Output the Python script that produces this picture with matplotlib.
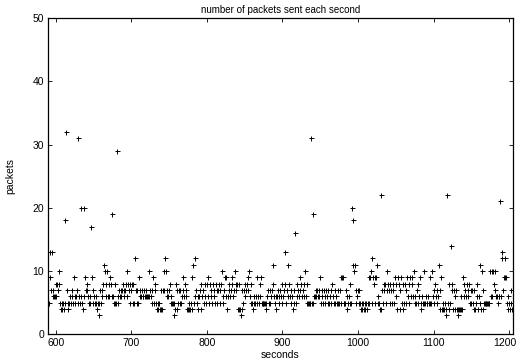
import matplotlib
matplotlib.use("Agg")
import matplotlib.pyplot as plt
import matplotlib.transforms as mtransforms
import numpy as np

# ── data: packets per second, one value per second from 590 ─────────
start_second = 590
packets = [
    5, 5, 9, 13, 7, 13, 7, 6, 6, 6,
    8, 6, 8, 7, 10, 8, 5, 4, 5, 4,
    5, 4, 5, 18, 32, 7, 5, 4, 5, 6,
    5, 6, 7, 5, 9, 6, 5, 6, 7, 5,
    31, 6, 5, 6, 20, 5, 4, 20, 6, 9,
    7, 8, 7, 6, 5, 6, 5, 17, 9, 5,
    7, 6, 5, 5, 6, 4, 5, 3, 5, 7,
    5, 6, 7, 8, 11, 10, 6, 8, 10, 6,
    8, 6, 9, 8, 6, 19, 6, 5, 8, 5,
    5, 29, 5, 6, 7, 6, 7, 6, 7, 8,
    7, 6, 7, 8, 6, 10, 8, 7, 8, 5,     # 690
    7, 8, 5, 8, 5, 12, 7, 5, 7, 5,
    9, 6, 7, 6, 7, 6, 6, 7, 6, 6,
    7, 6, 6, 10, 6, 7, 6, 5, 7, 9,
    5, 7, 8, 5, 4, 5, 4, 5, 4, 7,
    4, 4, 7, 10, 7, 12, 10, 6, 7, 6,
    7, 8, 5, 6, 5, 5, 3, 5, 4, 8,
    7, 4, 5, 7, 5, 7, 5, 6, 9, 7,
    6, 8, 7, 6, 4, 4, 5, 4, 4, 5,
    9, 4, 11, 5, 12, 6, 7, 5, 6, 4,
    6, 7, 4, 8, 6, 7, 5, 8, 6, 5,     # 790
    8, 6, 9, 5, 8, 6, 7, 5, 8, 6,
    7, 5, 8, 7, 5, 7, 8, 5, 7, 8,
    10, 6, 5, 7, 9, 6, 9, 4, 6, 7,
    8, 6, 7, 9, 8, 6, 7, 10, 8, 7,
    8, 4, 8, 4, 4, 3, 7, 4, 5, 7,
    8, 6, 7, 8, 7, 9, 10, 6, 5, 8,
    5, 4, 5, 6, 5, 6, 5, 9, 6, 5,
    8, 6, 9, 5, 5, 5, 5, 5, 5, 4,
    6, 7, 5, 7, 5, 6, 7, 11, 8, 6,
    5, 6, 4, 6, 7, 6, 5, 7, 6, 5,     # 890
    8, 6, 7, 13, 8, 5, 7, 6, 11, 8,
    6, 5, 7, 6, 4, 7, 5, 16, 5, 6,
    8, 7, 6, 9, 7, 8, 6, 7, 8, 6,
    10, 6, 8, 5, 5, 5, 5, 5, 31, 5,
    5, 19, 6, 6, 7, 6, 7, 6, 7, 6,
    9, 5, 7, 6, 5, 7, 6, 5, 7, 6,
    5, 7, 5, 6, 7, 5, 8, 6, 5, 7,
    5, 6, 5, 7, 5, 5, 7, 9, 5, 9,
    9, 5, 5, 5, 7, 6, 4, 5, 6, 5,
    8, 5, 20, 18, 11, 10, 11, 7, 5, 6,  # 990
    7, 5, 7, 5, 4, 5, 4, 5, 4, 5,
    4, 5, 4, 5, 9, 5, 9, 10, 5, 12,
    9, 8, 9, 5, 9, 11, 5, 6, 5, 4,
    4, 22, 7, 5, 8, 7, 8, 5, 7, 10,
    8, 7, 5, 8, 7, 5, 8, 7, 5, 9,
    6, 8, 4, 9, 8, 4, 7, 9, 5, 4,
    8, 5, 8, 7, 5, 9, 6, 8, 5, 9,
    6, 8, 9, 6, 10, 5, 6, 5, 7, 5,
    8, 6, 9, 4, 5, 6, 5, 10, 5, 5,
    6, 5, 5, 6, 5, 5, 9, 5, 10, 6,     # 1090
    7, 5, 8, 6, 7, 5, 6, 11, 7, 4,
    9, 4, 4, 5, 4, 5, 4, 3, 22, 5,
    8, 4, 5, 14, 7, 8, 4, 7, 6, 4,
    7, 4, 4, 3, 4, 4, 4, 6, 4, 9,
    6, 8, 7, 6, 8, 7, 6, 8, 5, 7,
    5, 7, 5, 4, 7, 4, 5, 8, 6, 4,
    6, 11, 5, 4, 10, 4, 7, 5, 5, 5,
    5, 5, 5, 5, 5, 10, 6, 10, 6, 10,
    8, 7, 10, 6, 6, 5, 6, 6, 21, 6,
    13, 12, 7, 9, 12, 9, 9, 5, 4, 6,  # 1190
    5, 4, 5, 7, 4,
]
seconds = np.arange(start_second, start_second + len(packets))

x_ticks = [600, 700, 800, 900, 1000, 1100, 1200]
y_ticks = [0, 10, 20, 30, 40, 50]

# ── plot ─────────────────────────────────────────────────────
plt.rcParams["font.family"] = ["Liberation Sans", "DejaVu Sans"]
plt.rcParams["font.size"] = 7.5

fig = plt.figure(figsize=(5.17, 3.62), dpi=100)
ax = fig.add_axes([0.093, 0.077, 0.899, 0.873])

ax.plot(seconds, packets, linestyle="none", marker="+", color="black",
        markersize=3.6, markeredgewidth=0.7)

ax.set_xlim(590, 1205)
ax.set_ylim(0, 50)
ax.set_xticks(x_ticks)
ax.set_yticks(y_ticks)
ax.tick_params(direction="in", length=3, width=0.6, top=True, right=True,
               pad=3, labelsize=7.5)
for spine in ax.spines.values():
    spine.set_linewidth(0.9)

# last x label sits at the figure edge; nudge it left so it is not clipped
last = ax.get_xticklabels()[-1]
last.set_transform(last.get_transform()
                   + mtransforms.ScaledTranslation(-4 / 100, 0, fig.dpi_scale_trans))

ax.set_title("number of packets sent each second", fontsize=7, pad=4)
ax.set_xlabel("seconds", labelpad=1)
ax.set_ylabel("packets", labelpad=12)

fig.savefig("out.png", dpi=100, facecolor="white")
